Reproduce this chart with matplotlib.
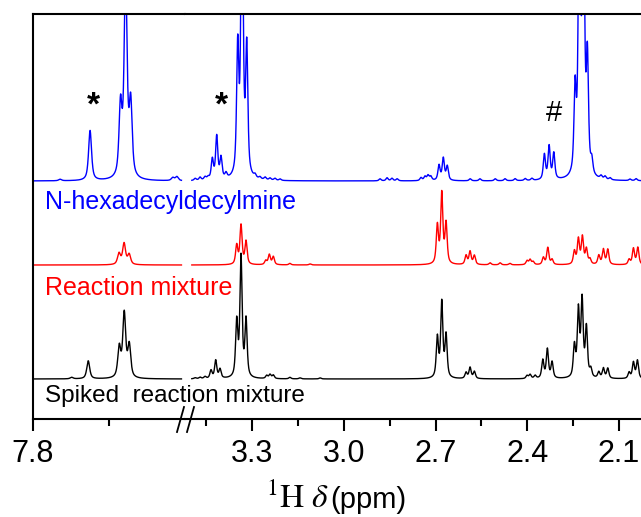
import numpy as np
import matplotlib
matplotlib.use("Agg")
import matplotlib.pyplot as plt
from matplotlib.lines import Line2D

plt.rcParams['font.family'] = ['Liberation Sans', 'DejaVu Sans']
plt.rcParams['mathtext.fontset'] = 'stix'

# ---------------- data: peak positions (ppm) and heights (a.u.) ----------------
# N-hexadecyldecylmine (blue)
blue_left_ppm = [7.746, 7.687, 7.627, 7.617, 7.607, 7.524, 7.516]
blue_left_h = [1.5, 50, 70, 200, 72, 3, 4]
blue_right_ppm = [3.487, 3.471, 3.455, 3.445, 3.4309, 3.4165, 3.4025, 3.386,
                  3.3478, 3.3337, 3.3183, 3.291, 3.275, 3.258, 3.242, 3.226, 3.209,
                  2.882, 2.859, 2.843, 2.826, 2.748, 2.735, 2.725, 2.716,
                  2.689, 2.675, 2.662, 2.587, 2.555, 2.505, 2.473, 2.440, 2.407, 2.385,
                  2.3442, 2.3287, 2.3134, 2.2437, 2.2296, 2.2165, 2.2035, 2.189,
                  2.1586, 2.1455, 2.129, 2.064, 2.044]
blue_right_h = [2, 3, 3, 2.5, 20, 43, 21, 5,
                126, 320, 126, 3, 2, 2.5, 2, 2, 1.5,
                2, 3, 2.5, 2, 3, 4, 5, 4,
                15, 22, 14, 2, 2, 2, 2, 2, 2, 2,
                25, 33, 26, 82, 300, 300, 112, 13,
                3, 3, 2, 1.5, 2]

# Reaction mixture (red)
red_left_ppm = [7.630, 7.620, 7.610]
red_left_h = [11, 21, 10]
red_right_ppm = [3.3511, 3.337, 3.3206, 3.2561, 3.2444, 3.2313, 3.177, 3.111,
                 2.6944, 2.680, 2.666, 2.6005, 2.5874, 2.5733, 2.522, 2.489, 2.457,
                 2.401, 2.391, 2.381, 2.3475, 2.333, 2.319,
                 2.246, 2.2329, 2.2198, 2.2067, 2.195,
                 2.1661, 2.1511, 2.1367, 2.0669, 2.0528, 2.0384]
red_right_h = [19, 39, 23, 4, 10, 8, 1.5, 1,
               38, 70, 40, 9, 13, 9, 2, 2, 1.5,
               4, 5, 3, 7, 17, 5,
               13, 25, 27, 15, 5,
               9, 15, 15, 5, 16, 17]

# Spiked reaction mixture (black)
black_left_ppm = [7.7232, 7.6906, 7.6295, 7.6197, 7.6098]
black_left_h = [1.5, 18, 30, 64, 32]
black_right_ppm = [3.487, 3.471, 3.455, 3.4352, 3.4198, 3.4057,
                   3.3511, 3.337, 3.3206, 3.2529, 3.2421, 3.2313, 3.177, 3.144, 3.078,
                   2.6944, 2.680, 2.666, 2.6005, 2.5874, 2.5733,
                   2.401, 2.391, 2.3745, 2.3494, 2.3344, 2.319,
                   2.246, 2.2329, 2.2208, 2.2067, 2.1923,
                   2.1661, 2.1511, 2.1367, 2.0669, 2.0528, 2.0397]
black_right_h = [1, 1.5, 2, 8, 18, 9,
                 55, 120, 57, 3, 4, 3.5, 1.5, 1, 1,
                 40, 75, 42, 6, 11, 7,
                 3, 4, 3, 18, 29, 16,
                 31, 66, 76, 49, 8,
                 6, 10, 10, 6, 16, 18]

labels = ['N-hexadecyldecylmine', 'Reaction mixture', 'Spiked  reaction mixture']
colors = ['#0000ff', '#ff0000', '#000000']
offsets = [238, 154, 40]

left_ticks = [7.8]
left_minor = [7.65]
right_ticks = [3.3, 3.0, 2.7, 2.4, 2.1]
right_minor = [3.45, 3.15, 2.85, 2.55, 2.25]


def lineshape(grid, ppm, h, fwhm, eta=0.7):
    y = np.zeros_like(grid)
    for p, a in zip(ppm, h):
        d = (grid - p) / (fwhm / 2.0)
        y += a * (eta / (1 + d ** 2) + (1 - eta) * np.exp(-np.log(2) * d ** 2))
    return y


W, H = 641, 517
fig = plt.figure(figsize=(W / 100, H / 100), dpi=100)
x0, xb, x1 = 32.7, 185.0, 641.0
ytop, ybot = 14.0, 419.0
axL = fig.add_axes([x0 / W, 1 - ybot / H, (xb - x0) / W, (ybot - ytop) / H])
axR = fig.add_axes([xb / W, 1 - ybot / H, (x1 - xb) / W, (ybot - ytop) / H])

gridL = np.linspace(7.8, 7.507, 4000)
gridR = np.linspace(3.498, 2.028, 8000)

series = [
    (blue_left_ppm, blue_left_h, blue_right_ppm, blue_right_h),
    (red_left_ppm, red_left_h, red_right_ppm, red_right_h),
    (black_left_ppm, black_left_h, black_right_ppm, black_right_h),
]
for (lp, lh, rp, rh), c, off in zip(series, colors, offsets):
    axL.plot(gridL, off + lineshape(gridL, lp, lh, 0.0069), color=c, lw=1.0)
    axR.plot(gridR, off + lineshape(gridR, rp, rh, 0.0085), color=c, lw=1.0)

axL.set_xlim(7.8, 7.5)
axR.set_xlim(3.5203, 2.028)
for ax in (axL, axR):
    ax.set_ylim(0, ybot - ytop)
    ax.set_yticks([])
    for s in ax.spines.values():
        s.set_linewidth(1.5)
    ax.tick_params(axis='x', which='major', direction='out', length=8.6, width=1.5,
                   labelsize=22, pad=6)
    ax.tick_params(axis='x', which='minor', direction='out', length=5, width=1.5)
axL.spines['right'].set_visible(False)
axR.spines['left'].set_visible(False)
axR.spines['right'].set_visible(False)
axL.set_xticks(left_ticks)
axL.set_xticks(left_minor, minor=True)
axR.set_xticks(right_ticks)
axR.set_xticks(right_minor, minor=True)
axL.set_xticklabels(['%.1f' % t for t in left_ticks])
axR.set_xticklabels(['%.1f' % t for t in right_ticks])

# break marks
for dx in (0, 10):
    fig.add_artist(Line2D([(177 + dx) / W, (184 + dx) / W], [1 - 432 / H, 1 - 407 / H],
                          color='black', lw=1.3, transform=fig.transFigure))

# labels
fig.text(45 / W, 1 - 209 / H, labels[0], color=colors[0], fontsize=18, va='baseline')
fig.text(45 / W, 1 - 295 / H, labels[1], color=colors[1], fontsize=18, va='baseline')
fig.text(45 / W, 1 - 402 / H, labels[2], color=colors[2], fontsize=17.5, va='baseline')

fig.text(93 / W, 1 - 106 / H, '*', fontsize=24, fontweight='bold', ha='center', va='center')
fig.text(221 / W, 1 - 106 / H, '*', fontsize=24, fontweight='bold', ha='center', va='center')
fig.text(554 / W, 1 - 113 / H, '#', fontsize=21, ha='center', va='center')

fig.text(329 / W, 1 - 508 / H, r'$^{1}\mathrm{H}\ \delta$', fontsize=24,
         ha='right', va='baseline')
fig.text(330 / W, 1 - 508 / H, '(ppm)', fontsize=21, ha='left', va='baseline')

fig.savefig('out.png', dpi=100)
